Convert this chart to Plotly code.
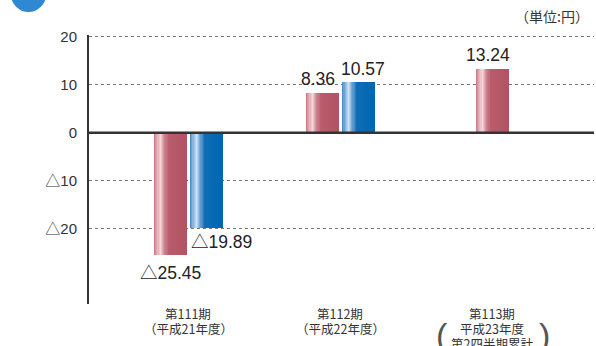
import plotly.graph_objects as go

# ---- data ----
categories = ["第111期", "第112期", "第113期"]
cat_line1 = ["第111期", "第112期", "第113期"]
cat_line2 = ["（平成21年度）", "（平成22年度）", "平成23年度"]
cat_line3 = ["", "", "第2四半期累計"]
series_red = [-25.45, 8.36, 13.24]
series_blue = [-19.89, 10.57, None]
y_tickvals = [20, 10, 0, -10, -20]
y_ticktext = ["20", "10", "0", "△10", "△20"]
unit_label = "（単位:円）"

# ---- style ----
FONT = "Liberation Sans, Arial, Noto Sans CJK JP, sans-serif"
JFONT = "Noto Sans CJK JP, sans-serif"
BAR_W = 0.21
red_off = [-0.222, -0.222, -0.105]
blue_off = [0.016, 0.016, 0.016]

def hex2rgb(h):
    h = h.lstrip("#")
    return tuple(int(h[i:i + 2], 16) for i in (0, 2, 4))

def grad(stops, t):
    for (t0, c0), (t1, c1) in zip(stops, stops[1:]):
        if t0 <= t <= t1:
            f = (t - t0) / (t1 - t0) if t1 > t0 else 0
            a, b = hex2rgb(c0), hex2rgb(c1)
            return "rgb(%d,%d,%d)" % tuple(round(a[i] + (b[i] - a[i]) * f) for i in range(3))
    return stops[-1][1]

red_stops = [(0, "#c47684"), (0.08, "#dea0aa"), (0.2, "#f7d8dc"), (0.32, "#d08a96"),
             (0.45, "#ba5c6c"), (1.0, "#b25364")]
blue_stops = [(0, "#3a80c2"), (0.08, "#86b2de"), (0.2, "#d2e3f4"), (0.32, "#6aa0d4"),
              (0.45, "#0f6db6"), (1.0, "#0066b0")]

N = 28
x_idx = list(range(len(categories)))
fig = go.Figure()
for vals, offs, stops in [(series_red, red_off, red_stops), (series_blue, blue_off, blue_stops)]:
    for i in range(N):
        t = (i + 0.5) / N
        sw = BAR_W / N
        fig.add_trace(go.Bar(
            x=x_idx, y=vals, width=[sw * 1.35] * len(x_idx),
            offset=[o + i * sw for o in offs],
            marker=dict(color=grad(stops, t), line=dict(width=0)),
            showlegend=False, hoverinfo="skip"))

def fmt(v):
    return ("△%.2f" % abs(v)) if v < 0 else "%.2f" % v

LBL = dict(size=17.5, color="#222", family=FONT)
anns = []
for j, v in enumerate(series_red):
    cx = j + red_off[j] + BAR_W / 2
    if v >= 0:
        anns.append(dict(x=cx - 0.03, y=v, xref="x", yref="y", text=fmt(v), showarrow=False,
                         yanchor="bottom", yshift=2, font=LBL))
    else:
        anns.append(dict(x=cx, y=v, xref="x", yref="y", text=fmt(v), showarrow=False,
                         yanchor="top", yshift=-6, font=LBL))
for j, v in enumerate(series_blue):
    if v is None:
        continue
    cx = j + blue_off[j] + BAR_W / 2
    if v >= 0:
        anns.append(dict(x=cx + 0.03, y=v, xref="x", yref="y", text=fmt(v), showarrow=False,
                         yanchor="bottom", yshift=1, font=LBL))
    else:
        anns.append(dict(x=j + blue_off[j], y=v, xref="x", yref="y", text=fmt(v), showarrow=False,
                         xanchor="left", yanchor="top", yshift=-2, xshift=-2, font=LBL))

CAT = dict(size=12.5, color="#333", family=JFONT)
for j in x_idx:
    lines = [cat_line1[j], cat_line2[j]] + ([cat_line3[j]] if cat_line3[j] else [])
    for k, line in enumerate(lines):
        anns.append(dict(x=j, y=0, xref="x", yref="paper", yanchor="middle",
                         yshift=-(9 + 15 * k), text=line, showarrow=False, font=CAT))
    if cat_line3[j]:
        PF = dict(size=34, color="#555", family="Liberation Sans, Arial")
        anns.append(dict(x=j, y=0, xref="x", yref="paper", yanchor="top", yshift=-10, xshift=-50,
                         text="(", showarrow=False, font=PF))
        anns.append(dict(x=j, y=0, xref="x", yref="paper", yanchor="top", yshift=-10, xshift=52,
                         text=")", showarrow=False, font=PF))

anns.append(dict(x=1.0, y=1, xref="paper", yref="paper", xanchor="right", yanchor="bottom",
                 yshift=7, xshift=-3, text=unit_label, showarrow=False,
                 font=dict(size=14, color="#333", family=JFONT)))

shapes = [
    dict(type="line", xref="paper", yref="y", x0=0, x1=1.0, y0=0, y1=0,
         line=dict(color="#333", width=2.5), layer="above"),
    dict(type="circle", xref="paper", yref="paper",
         x0=(11 - 89) / 505, x1=(46 - 89) / 505,
         y0=(304 - 12) / 269, y1=(304 + 23) / 269,
         fillcolor="#2f88d2", line=dict(width=0), layer="above"),
]

fig.update_layout(
    width=596, height=346, margin=dict(l=89, r=2, t=35, b=42),
    paper_bgcolor="white", plot_bgcolor="white",
    barmode="overlay", bargap=0,
    annotations=anns, shapes=shapes,
    xaxis=dict(range=[-0.653, 2.669], showticklabels=False, showgrid=False,
               zeroline=False, showline=False, fixedrange=True),
    yaxis=dict(range=[-35.7, 20.35], tickvals=y_tickvals, ticktext=y_ticktext,
               tickfont=dict(size=15, color="#333", family=FONT),
               ticks="outside", ticklen=7, tickcolor="rgba(0,0,0,0)",
               showgrid=True, gridcolor="#777", griddash="dot", gridwidth=1,
               zeroline=False, showline=True, linecolor="#333", linewidth=2),
)

fig.write_html("out.html")
